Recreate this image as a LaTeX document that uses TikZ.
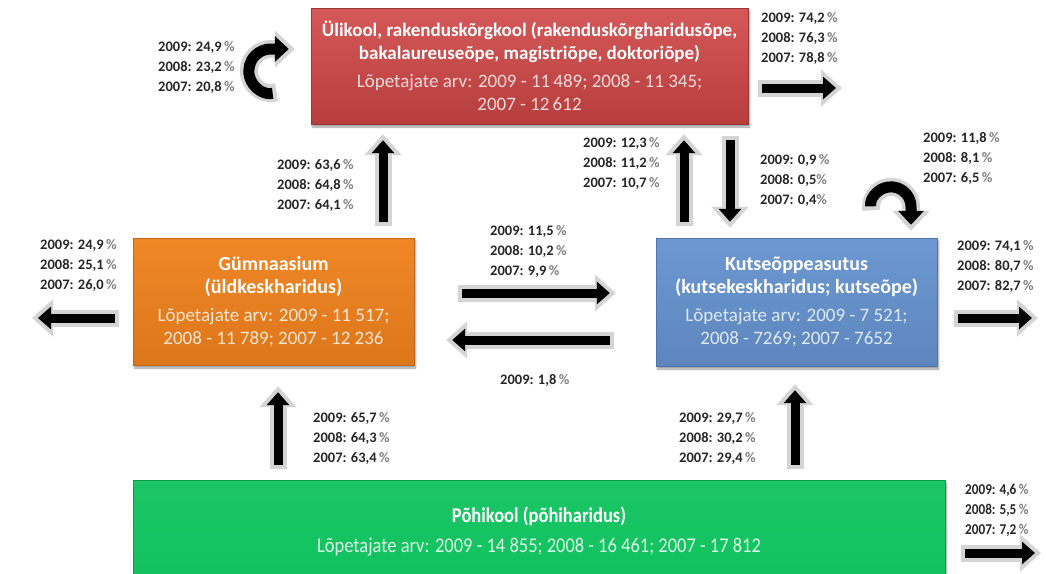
\documentclass[tikz,border=0pt]{standalone}
\usepackage{fontspec}
\setmainfont{Carlito}
\newfontfamily\narrowfont[FakeStretch=0.88]{Carlito}
\usetikzlibrary{arrows.meta,positioning,shadows.blur}
\definecolor{uliRed}{HTML}{D04646}
\definecolor{gymOrange}{HTML}{EF811C}
\definecolor{kutseBlue}{HTML}{6592CE}
\definecolor{pohiGreen}{HTML}{10C25E}
\definecolor{rimGray}{HTML}{D4D4D4}
\newcommand{\pc}{\textcolor{gray}{\%}}
\tikzstyle{box} = [rectangle, align=center, text=white, inner sep=0pt, font=\fontsize{19}{23}\selectfont, blur shadow={shadow xshift=1.5pt, shadow yshift=-3pt, shadow blur steps=6}]
\tikzstyle{flowrim} = [draw=rimGray, line width=17pt, -{Triangle[width=36pt,length=21pt]}]
\tikzstyle{flow} = [draw=black, line width=9pt, -{Triangle[width=22pt,length=13pt]}, shorten >=6pt, shorten <=4pt]
\tikzstyle{curlrim} = [draw=rimGray, line width=18pt, -{Triangle[width=36pt,length=20pt]}]
\tikzstyle{curl} = [draw=black, line width=11pt, -{Triangle[width=25pt,length=14pt]}, shorten >=6pt, shorten <=4pt]
\tikzstyle{pct} = [font=\bfseries\fontsize{14.5}{20}\selectfont, align=left, text=black!85, inner sep=0pt, anchor=west]
\newcommand{\flowarrow}[2]{\draw [flowrim] #1 -- #2; \draw [flow] #1 -- #2;}

\begin{document}
\begin{tikzpicture}[x=1pt, y=-1pt]
  \useasboundingbox (0,0) rectangle (1046,573);
  \clip (0,0) rectangle (1046,573);

  % boxes
  \node (uli) [box, top color=uliRed!90!white, bottom color=uliRed!88!black, draw=uliRed!75!black, minimum width=437pt, minimum height=116pt] at (529.5,66)
    {\textbf{Ülikool, rakenduskõrgkool (rakenduskõrgharidusõpe,}\\ \textbf{bakalaureuseõpe, magistriõpe, doktoriõpe)}\\[5pt]
     \textcolor{white!80!uliRed}{Lõpetajate arv: 2009 - 11\,489; 2008 - 11 345;}\\ \textcolor{white!80!uliRed}{2007 - 12\,612}};
  \node (gym) [box, top color=gymOrange!95!white, bottom color=gymOrange!92!black, draw=gymOrange!80!black, minimum width=281pt, minimum height=127pt] at (273.5,301.5)
    {\textbf{\fontsize{20}{23}\selectfont Gümnaasium}\\ \textbf{\fontsize{20}{23}\selectfont (üldkeskharidus)}\\[5pt]
     \textcolor{white!80!gymOrange}{Lõpetajate arv: 2009 - 11 517;}\\ \textcolor{white!80!gymOrange}{2008 - 11 789; 2007 - 12 236}};
  \node (kutse) [box, top color=kutseBlue!95!white, bottom color=kutseBlue!92!black, draw=kutseBlue!80!black, minimum width=281pt, minimum height=128pt] at (796.5,302)
    {\textbf{\fontsize{20}{23}\selectfont Kutseõppeasutus}\\ \textbf{\fontsize{20}{23}\selectfont (kutsekeskharidus; kutseõpe)}\\[5pt]
     \textcolor{white!80!kutseBlue}{Lõpetajate arv: 2009 - 7 521;}\\ \textcolor{white!80!kutseBlue}{2008 - 7269; 2007 - 7652}};
  \node (pohi) [box, top color=pohiGreen!95!white, bottom color=pohiGreen, draw=pohiGreen!80!black, minimum width=812pt, minimum height=102pt, font=\narrowfont\fontsize{21}{30}\selectfont] at (539,531)
    {\textbf{Põhikool (põhiharidus)}\\
     \textcolor{white!85!pohiGreen}{Lõpetajate arv: 2009 - 14 855; 2008 - 16 461; 2007 - 17 812}};

  % free ends
  \coordinate (uliOut) at (842,88);
  \coordinate (gymOut) at (32,318);
  \coordinate (kutseOut) at (1038,318);
  \coordinate (pohiOut) at (1041,553);
  \coordinate (uliLoop) at ([shift={(-40,5)}]uli.west);
  \coordinate (kutseLoop) at ([shift={(94.5,-31)}]kutse.north);

  % connectors
  \flowarrow{([shift={(109.5,-12)}]gym.north)}{([shift={(109.5,10)}]gym.north |- uli.south)}
  \flowarrow{([shift={(-112.5,-12)}]kutse.north)}{([shift={(-112.5,10)}]kutse.north |- uli.south)}
  \flowarrow{([shift={(-66.5,12)}]kutse.north |- uli.south)}{([shift={(-66.5,-10)}]kutse.north)}
  \flowarrow{([shift={(44,-8.5)}]gym.east)}{([shift={(-40,-8.5)}]gym.east -| kutse.west)}
  \flowarrow{([shift={(-42,38.5)}]gym.east -| kutse.west)}{([shift={(32,38.5)}]gym.east)}
  \flowarrow{([shift={(4.5,-11)}]pohi.north -| gym.south)}{([shift={(4.5,21)}]gym.south)}
  \flowarrow{([shift={(-1.5,-11)}]pohi.north -| kutse.south)}{([shift={(-1.5,18)}]kutse.south)}
  \flowarrow{([shift={(10,22)}]uli.east)}{(uliOut)}
  \flowarrow{([shift={(-14,16.5)}]gym.west)}{(gymOut)}
  \flowarrow{([shift={(17,16)}]kutse.east)}{(kutseOut)}
  \flowarrow{([shift={(16,22)}]pohi.east)}{(pohiOut)}
  \draw [curlrim] ([shift={(75:22)}]uliLoop) arc [start angle=75, end angle=270, radius=22] -- ++(24,0);
  \draw [curl] ([shift={(75:22)}]uliLoop) arc [start angle=75, end angle=270, radius=22] -- ++(24,0);
  \draw [curlrim] ([shift={(170:20)}]kutseLoop) arc [start angle=170, end angle=360, radius=20] -- ++(0,24);
  \draw [curl] ([shift={(170:20)}]kutseLoop) arc [start angle=170, end angle=360, radius=20] -- ++(0,24);

  % labels
  \node (lblUliLoop) [pct] at (158,67) {2009: 24,9\,\pc\\ 2008: 23,2\,\pc\\ 2007: 20,8\,\pc};
  \node (lblUliOut) [pct] at (761,38) {2009: 74,2\,\pc\\ 2008: 76,3\,\pc\\ 2007: 78,8\,\pc};
  \node (lblGymUli) [pct] at (277,185) {2009: 63,6\,\pc\\ 2008: 64,8\,\pc\\ 2007: 64,1\,\pc};
  \node (lblKutseUli) [pct] at (583,163) {2009: 12,3\,\pc\\ 2008: 11,2\,\pc\\ 2007: 10,7\,\pc};
  \node (lblUliKutse) [pct] at (760,180) {2009: 0,9\,\pc\\ 2008: 0,5\pc\\ 2007: 0,4\pc};
  \node (lblKutseLoop) [pct] at (923,158) {2009: 11,8\,\pc\\ 2008: 8,1\,\pc\\ 2007: 6,5\,\pc};
  \node (lblGymOut) [pct] at (40,265) {2009: 24,9\,\pc\\ 2008: 25,1\,\pc\\ 2007: 26,0\,\pc};
  \node (lblGymKutse) [pct] at (490,251) {2009: 11,5\,\pc\\ 2008: 10,2\,\pc\\ 2007: 9,9\,\pc};
  \node (lblKutseGym) [pct] at (500,380) {2009: 1,8\,\pc};
  \node (lblKutseOut) [pct] at (957,266) {2009: 74,1\,\pc\\ 2008: 80,7\,\pc\\ 2007: 82,7\,\pc};
  \node (lblPohiGym) [pct] at (313,438) {2009: 65,7\,\pc\\ 2008: 64,3\,\pc\\ 2007: 63,4\,\pc};
  \node (lblPohiKutse) [pct] at (679,438) {2009: 29,7\,\pc\\ 2008: 30,2\,\pc\\ 2007: 29,4\,\pc};
  \node (lblPohiOut) [pct, font=\narrowfont\bfseries\fontsize{15}{20}\selectfont] at (965,510) {2009: 4,6\,\pc\\ 2008: 5,5\,\pc\\ 2007: 7,2\,\pc};
\end{tikzpicture}
\end{document}
